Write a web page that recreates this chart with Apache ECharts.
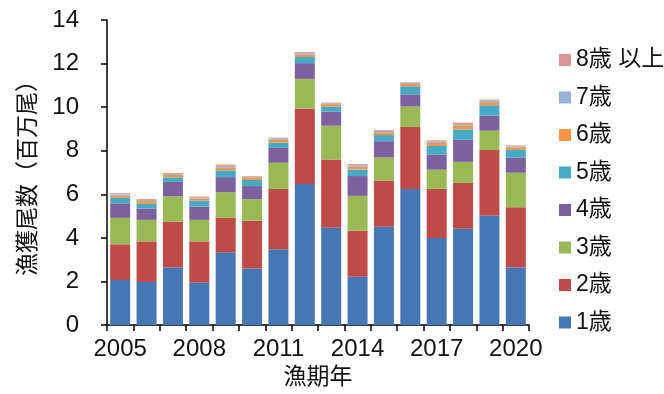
<!DOCTYPE html>
<html>
<head>
<meta charset="utf-8">
<script src="https://cdn.jsdelivr.net/npm/echarts@6/dist/echarts.min.js"></script>
<style>
  html, body { margin: 0; padding: 0; background: #ffffff; }
  #chart { width: 664px; height: 394px; }
</style>
</head>
<body>
<div id="chart"></div>
<script>
// Catch in numbers (millions of fish) by fishing year and age class
const years = ['2005','2006','2007','2008','2009','2010','2011','2012','2013','2014','2015','2016','2017','2018','2019','2020'];
const age1 = [2.07, 1.98, 2.64, 1.95, 3.34, 2.60, 3.48, 6.48, 4.47, 2.22, 4.51, 6.25, 4.00, 4.42, 5.03, 2.64];
const age2 = [1.64, 1.86, 2.10, 1.89, 1.58, 2.19, 2.77, 3.45, 3.13, 2.11, 2.12, 2.84, 2.25, 2.10, 3.00, 2.77];
const age3 = [1.21, 0.99, 1.17, 0.99, 1.18, 0.99, 1.20, 1.37, 1.55, 1.60, 1.06, 0.94, 0.88, 0.97, 0.89, 1.58];
const age4 = [0.67, 0.51, 0.66, 0.61, 0.69, 0.60, 0.68, 0.72, 0.64, 0.91, 0.75, 0.56, 0.70, 1.01, 0.69, 0.70];
const age5 = [0.25, 0.22, 0.21, 0.27, 0.31, 0.28, 0.25, 0.28, 0.24, 0.30, 0.28, 0.37, 0.39, 0.48, 0.48, 0.35];
const age6 = [0.10, 0.13, 0.11, 0.09, 0.14, 0.12, 0.12, 0.10, 0.11, 0.12, 0.13, 0.11, 0.14, 0.19, 0.14, 0.12];
const age7 = [0.06, 0.05, 0.05, 0.05, 0.07, 0.03, 0.06, 0.07, 0.04, 0.07, 0.06, 0.04, 0.07, 0.06, 0.07, 0.04];
const age8 = [0.05, 0.04, 0.04, 0.05, 0.06, 0.03, 0.04, 0.06, 0.03, 0.06, 0.04, 0.03, 0.05, 0.06, 0.05, 0.04];

const seriesNames = ['1歳', '2歳', '3歳', '4歳', '5歳', '6歳', '7歳', '8歳 以上'];
const seriesData = [age1, age2, age3, age4, age5, age6, age7, age8];
const colors = ['#4677B5', '#BE4B48', '#98B954', '#7D60A0', '#46AAC5', '#F79646', '#95B3D7', '#D99694'];

const font = '"Liberation Sans", Arial, "Noto Sans CJK JP", sans-serif';

const chart = echarts.init(document.getElementById('chart'), null, { renderer: 'canvas' });

chart.setOption({
  animation: false,
  textStyle: { fontFamily: font },
  grid: { left: 107, right: 135, top: 20, bottom: 67, containLabel: false },
  legend: {
    orient: 'vertical',
    left: 554,
    top: 43,
    itemWidth: 12,
    itemHeight: 12,
    itemGap: 13.5,
    icon: 'rect',
    data: seriesNames.slice().reverse(),
    textStyle: { fontSize: 23, color: '#111', fontFamily: font, lineHeight: 24 }
  },
  xAxis: {
    type: 'category',
    data: years,
    name: '漁期年',
    nameLocation: 'middle',
    nameGap: 39,
    nameTextStyle: { fontSize: 23, color: '#111', fontFamily: font },
    axisLine: { lineStyle: { color: '#000', width: 1.5 } },
    axisTick: { show: true, length: 6, interval: 0, lineStyle: { color: '#000', width: 1.5 } },
    axisLabel: { interval: 2, fontSize: 24, color: '#111', margin: 12, fontFamily: font }
  },
  yAxis: {
    type: 'value',
    min: 0,
    max: 14,
    interval: 2,
    name: '漁獲尾数（百万尾）',
    nameLocation: 'middle',
    nameRotate: 90,
    nameGap: 67,
    nameTextStyle: { fontSize: 23, color: '#111', fontFamily: font },
    axisLine: { show: true, lineStyle: { color: '#000', width: 1.5 } },
    axisTick: { show: true, length: 6, lineStyle: { color: '#000', width: 1.5 } },
    axisLabel: { fontSize: 24, color: '#111', margin: 28, fontFamily: font },
    splitLine: { show: false }
  },
  series: seriesNames.map((name, i) => ({
    name: name,
    type: 'bar',
    stack: 'catch',
    barWidth: 20,
    data: seriesData[i],
    itemStyle: { color: colors[i] }
  }))
});
</script>
</body>
</html>
